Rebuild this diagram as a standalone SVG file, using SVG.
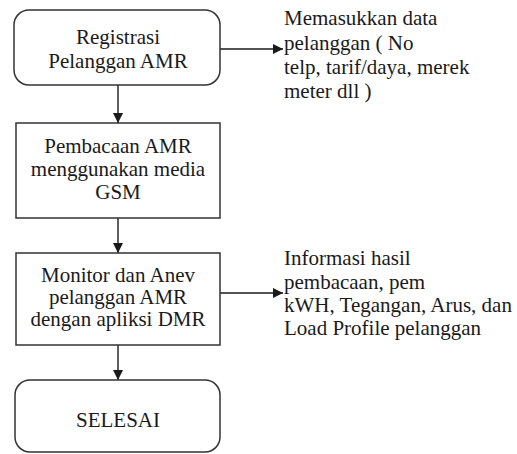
<svg xmlns="http://www.w3.org/2000/svg" width="517" height="454" viewBox="0 0 517 454">
  <style>
    .box { fill: #ffffff; stroke: #333333; stroke-width: 1.5; }
    .t { font-size: 21px; fill: #1a1a1a; }
    .c { text-anchor: middle; }
    .line { stroke: #1a1a1a; stroke-width: 1.4; fill: none; }
  </style>
  <defs>
    <marker id="ah" viewBox="0 0 10 10" refX="10" refY="5" markerWidth="10" markerHeight="10" markerUnits="userSpaceOnUse" orient="auto">
      <path d="M0,0 L10,5 L0,10 Z" fill="#1a1a1a"/>
    </marker>
  </defs>
  <rect width="517" height="454" fill="#ffffff"/>

  <g id="connectors">
    <line class="line" x1="118" y1="85" x2="118" y2="123" marker-end="url(#ah)"/>
    <line class="line" x1="118" y1="218" x2="118" y2="253" marker-end="url(#ah)"/>
    <line class="line" x1="118" y1="345" x2="118" y2="380" marker-end="url(#ah)"/>
    <line class="line" x1="220" y1="49" x2="283" y2="49" marker-end="url(#ah)"/>
    <line class="line" x1="220" y1="293" x2="283" y2="293" marker-end="url(#ah)"/>
  </g>

  <g id="registrasi">
    <rect class="box" x="14" y="10" width="206" height="75" rx="15" ry="15"/>
    <text class="t c" font-family="Liberation Serif" x="118" y="44">Registrasi</text>
    <text class="t c" font-family="Liberation Serif" x="118" y="68">Pelanggan AMR</text>
  </g>

  <g id="pembacaan">
    <rect class="box" x="16" y="123" width="204" height="95"/>
    <text class="t c" font-family="Liberation Serif" x="118" y="153">Pembacaan AMR</text>
    <text class="t c" font-family="Liberation Serif" x="118" y="176">menggunakan media</text>
    <text class="t c" font-family="Liberation Serif" x="118" y="199">GSM</text>
  </g>

  <g id="monitor">
    <rect class="box" x="16" y="253" width="204" height="92"/>
    <text class="t c" font-family="Liberation Serif" x="118" y="282">Monitor dan Anev</text>
    <text class="t c" font-family="Liberation Serif" x="118" y="304">pelanggan AMR</text>
    <text class="t c" font-family="Liberation Serif" x="118" y="326">dengan apliksi DMR</text>
  </g>

  <g id="selesai">
    <rect class="box" x="15" y="380" width="205" height="72" rx="15" ry="15"/>
    <text class="t c" font-family="Liberation Serif" x="118" y="427">SELESAI</text>
  </g>

  <g id="note-data">
    <text class="t" font-family="Liberation Serif" x="284" y="25">Memasukkan data</text>
    <text class="t" font-family="Liberation Serif" x="284" y="50">pelanggan ( No</text>
    <text class="t" font-family="Liberation Serif" x="284" y="74">telp, tarif/daya, merek</text>
    <text class="t" font-family="Liberation Serif" x="284" y="98">meter dll )</text>
  </g>

  <g id="note-info">
    <text class="t" font-family="Liberation Serif" x="284" y="265">Informasi hasil</text>
    <text class="t" font-family="Liberation Serif" x="284" y="289">pembacaan, pem</text>
    <text class="t" font-family="Liberation Serif" x="284" y="312">kWH, Tegangan, Arus, dan</text>
    <text class="t" font-family="Liberation Serif" x="284" y="335">Load Profile pelanggan</text>
  </g>
</svg>
